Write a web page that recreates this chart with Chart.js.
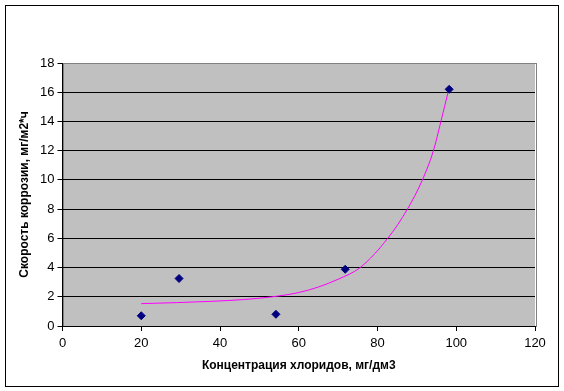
<!DOCTYPE html>
<html>
<head>
<meta charset="utf-8">
<script src="https://cdn.jsdelivr.net/npm/chart.js@4/dist/chart.umd.min.js"></script>
<style>
  html, body { margin: 0; padding: 0; background: #fff; }
  #wrap { position: relative; width: 564px; height: 391px; }
  #frame { position: absolute; left: 5px; top: 5px; width: 554px; height: 382px; border: 1px solid #000; box-sizing: border-box; pointer-events: none; }
  canvas { position: absolute; left: 0; top: 0; }
</style>
</head>
<body>
<div id="wrap">
  <canvas id="c" width="564" height="391"></canvas>
  <div id="frame"></div>
</div>
<script>
// Measured points
const chlorideConc = [20, 29.6, 54.2, 71.8, 98.2];
const corrosionRate = [0.7, 3.25, 0.8, 3.88, 16.2];

// Trend line
const trendX = [20, 29, 38, 46, 53, 60, 65, 70, 75.6, 82.6, 87.6, 91.4, 94.2, 96.1, 98.1];
const trendY = [1.53, 1.60, 1.69, 1.81, 1.99, 2.29, 2.67, 3.2, 4.0, 6.0, 8.0, 10.0, 12.0, 14.0, 16.2];

// Axis settings
const xTicks = [0, 20, 40, 60, 80, 100, 120];
const yTicks = [0, 2, 4, 6, 8, 10, 12, 14, 16, 18];
const xTitle = 'Концентрация хлоридов, мг/дм3';
const yTitle = 'Скорость коррозии, мг/м2*ч';

const FONT = 'Liberation Sans, Arial, sans-serif';

const plotBg = {
  id: 'plotBg',
  beforeDraw(chart) {
    const {ctx, chartArea: a} = chart;
    ctx.save();
    ctx.fillStyle = '#C0C0C0';
    ctx.fillRect(a.left, a.top, a.right - a.left, a.bottom - a.top);
    ctx.strokeStyle = '#808080';
    ctx.lineWidth = 1;
    ctx.strokeRect(Math.round(a.left) + 0.5, Math.round(a.top) + 0.5, Math.round(a.right - a.left), Math.round(a.bottom - a.top));
    ctx.restore();
  }
};

new Chart(document.getElementById('c'), {
  type: 'scatter',
  data: {
    datasets: [
      {
        label: 'trend',
        data: trendX.map((x, i) => ({x, y: trendY[i]})),
        showLine: true,
        borderColor: '#FF00FF',
        borderWidth: 1,
        pointRadius: 0,
        cubicInterpolationMode: 'monotone',
        order: 2
      },
      {
        label: 'data',
        data: chlorideConc.map((x, i) => ({x, y: corrosionRate[i]})),
        pointStyle: 'rectRot',
        pointRadius: 4,
        backgroundColor: '#000080',
        borderColor: '#000080',
        borderWidth: 1,
        order: 1
      }
    ]
  },
  options: {
    responsive: false,
    animation: false,
    devicePixelRatio: 1,
    layout: { padding: { top: 63, right: 29, left: 0, bottom: 0 } },
    plugins: { legend: { display: false }, tooltip: { enabled: false } },
    scales: {
      x: {
        type: 'linear',
        min: 0, max: 120,
        afterBuildTicks(s) { s.ticks = xTicks.map(v => ({value: v})); },
        afterFit(s) { s.height = 65; },
        grid: { drawOnChartArea: false, color: '#000', tickLength: 5, tickColor: '#000' },
        border: { color: '#000' },
        ticks: { color: '#000', font: { family: FONT, size: 13 }, padding: 5, maxRotation: 0 },
        title: { display: true, text: xTitle, color: '#000', font: { family: FONT, size: 12, weight: 'bold' }, padding: { top: 0, bottom: 18 } }
      },
      y: {
        type: 'linear',
        min: 0, max: 18,
        afterBuildTicks(s) { s.ticks = yTicks.map(v => ({value: v})); },
        afterFit(s) { s.width = 62.5; },
        grid: {
          color: (c) => (c.tick && c.tick.value === 18) ? '#808080' : '#000',
          tickColor: '#000',
          tickLength: 5
        },
        border: { color: '#000' },
        ticks: { color: '#000', font: { family: FONT, size: 13 }, padding: 3 },
        title: { display: true, text: yTitle, color: '#000', font: { family: FONT, size: 12, weight: 'bold' }, padding: { top: 17, bottom: 0 } }
      }
    }
  },
  plugins: [plotBg]
});
</script>
</body>
</html>
